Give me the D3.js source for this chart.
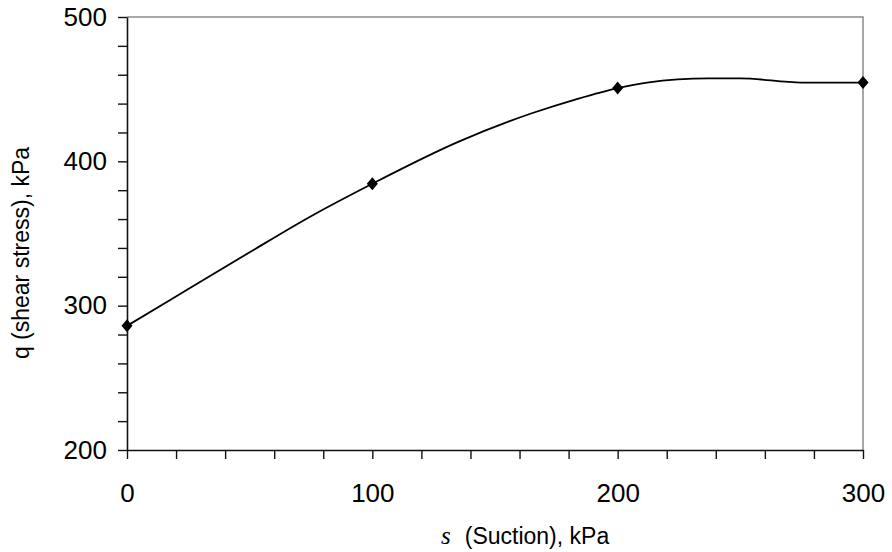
<!DOCTYPE html>
<html><head><meta charset="utf-8">
<script src="https://cdn.jsdelivr.net/npm/d3@7"></script>
<style>
html,body{margin:0;padding:0;background:#fff;}
svg{display:block;font-family:"Liberation Sans",Arial,sans-serif;}
</style></head>
<body><svg id="c" width="892" height="552"></svg>
<script>
// Measured points (markers)
const markerS = [0, 100, 200, 300];
const markerQ = [286, 384.5, 450.8, 454.6];
// Curve trace
const lineS = [0, 25, 50, 75, 100, 135, 165, 183, 200, 212, 237, 250, 275, 300];
const lineQ = [286, 311.5, 337, 362, 384.5, 413.5, 433.3, 443, 450.8, 454.6, 457.5, 457.5, 454.6, 454.6];
const xTicks = [0, 100, 200, 300];
const yTicks = [200, 300, 400, 500];

const svg = d3.select("#c");
const L = 127, R = 863, T = 17, B = 450;
const x = d3.scaleLinear().domain([0, 300]).range([L, R]);
const y = d3.scaleLinear().domain([200, 500]).range([B, T]);

// frame top/right (gray)
svg.append("path")
  .attr("d", `M${x(0)},${y(500)}H${x(300)}V${y(200)}`)
  .attr("fill", "none").attr("stroke", "#8c8c8c").attr("stroke-width", 1.5);

const fmtY = d => yTicks.includes(d) ? d : "";
const fmtX = d => xTicks.includes(d) ? d : "";

const gy = svg.append("g").attr("transform", `translate(${L},0)`)
  .call(d3.axisLeft(y).tickValues(d3.range(200, 501, 20)).tickFormat(fmtY)
    .tickSizeInner(9).tickSizeOuter(0).tickPadding(11));
const gx = svg.append("g").attr("transform", `translate(0,${B})`)
  .call(d3.axisBottom(x).tickValues(d3.range(0, 301, 20)).tickFormat(fmtX)
    .tickSizeInner(9).tickSizeOuter(0).tickPadding(25));
[gx, gy].forEach(g => {
  g.select(".domain").attr("stroke", "#111").attr("stroke-width", 1.6);
  g.selectAll(".tick line").attr("stroke", "#111").attr("stroke-width", 1.4);
  g.selectAll(".tick text").attr("fill", "#000")
    .style("font-family", "'Liberation Sans',Arial,sans-serif").style("font-size", "26px");
});

// line
const pts = lineS.map((s, i) => [s, lineQ[i]]);
svg.append("path").datum(pts)
  .attr("d", d3.line().x(d => x(d[0])).y(d => y(d[1])).curve(d3.curveMonotoneX))
  .attr("fill", "none").attr("stroke", "#000").attr("stroke-width", 1.8);

// diamond markers
const diamond = { draw(ctx, size) { const w = 5.5, h = 6.5;
  ctx.moveTo(0, -h); ctx.lineTo(w, 0); ctx.lineTo(0, h); ctx.lineTo(-w, 0); ctx.closePath(); } };
svg.selectAll(".mk").data(markerS).join("path").attr("class", "mk")
  .attr("transform", (d, i) => `translate(${x(d)},${y(markerQ[i])})`)
  .attr("d", d3.symbol().type(diamond)).attr("fill", "#000");

// axis titles
svg.append("text").attr("transform", "translate(29,253) rotate(-90)")
  .attr("text-anchor", "middle").style("font-size", "23px").attr("fill", "#000")
  .text("q (shear stress), kPa");
const xt = svg.append("text").attr("x", 441).attr("y", 544).attr("fill", "#000");
xt.append("tspan").text("s").style("font-family", "'Liberation Serif','Times New Roman',serif")
  .style("font-style", "italic").style("font-size", "25px");
xt.append("tspan").attr("dx", 14).text("(Suction), kPa").style("font-size", "23px");
</script></body></html>
